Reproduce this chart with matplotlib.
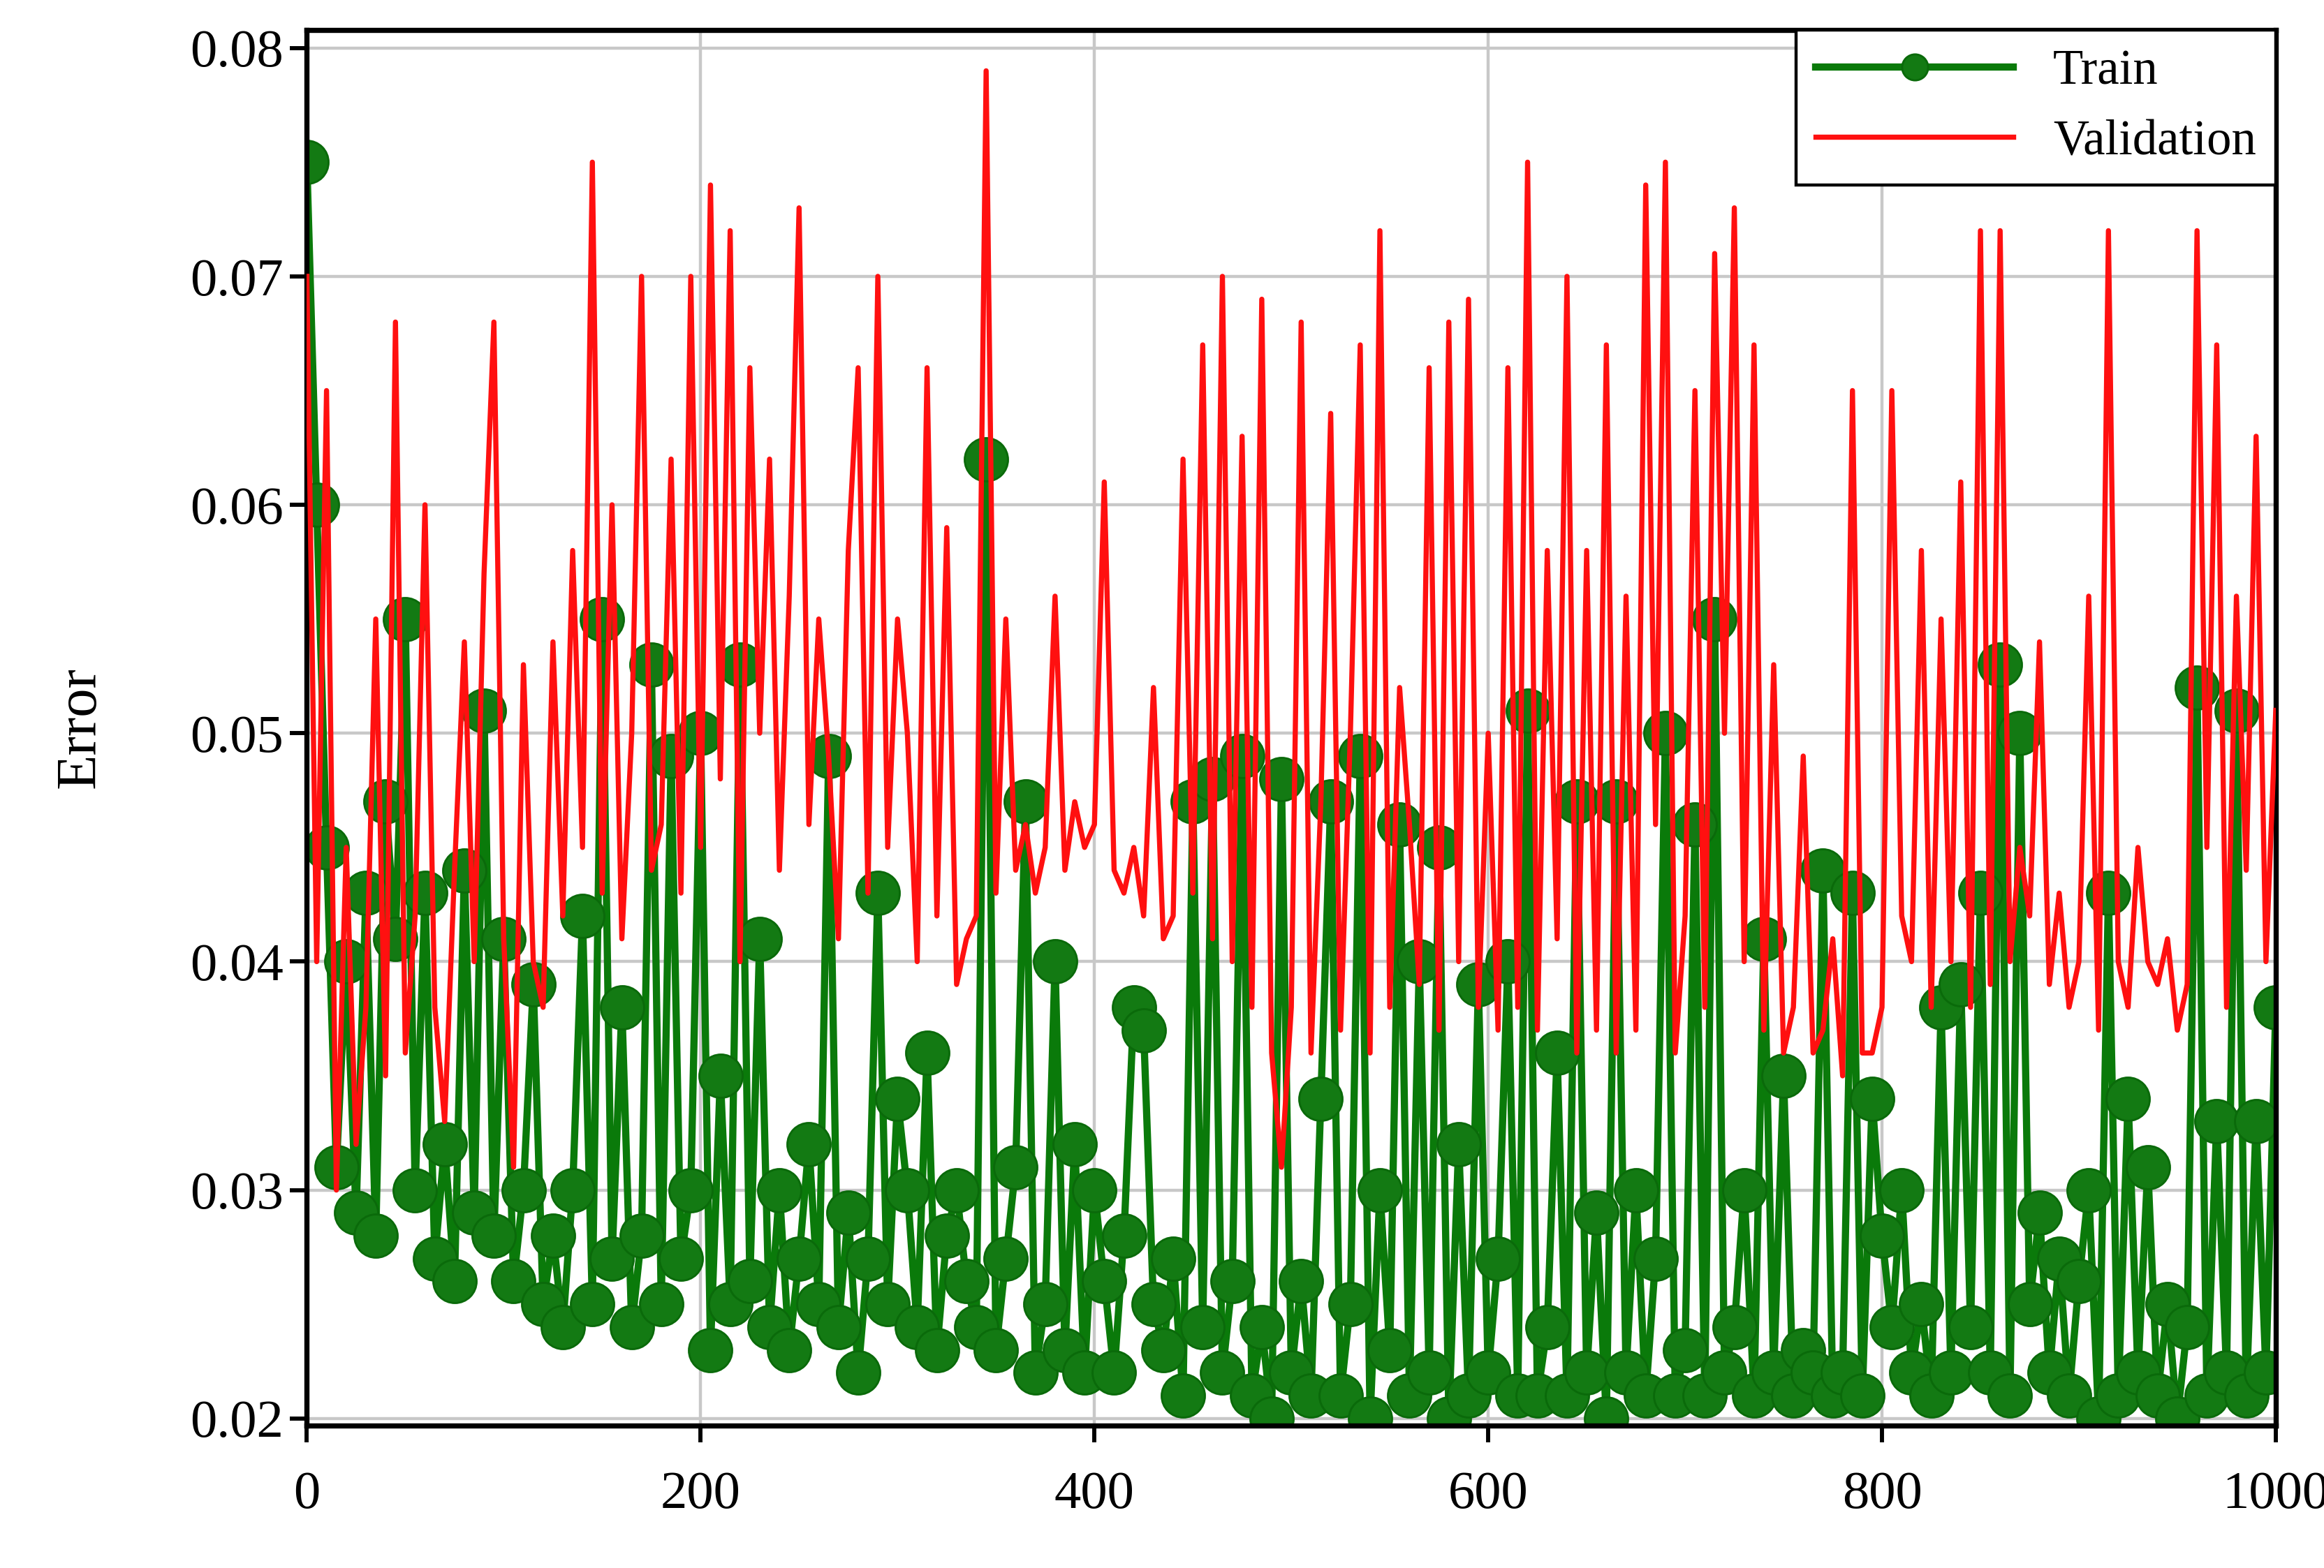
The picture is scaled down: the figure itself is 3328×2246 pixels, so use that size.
import numpy as np
import matplotlib
matplotlib.use("Agg")
import matplotlib.pyplot as plt

val = [0.070,0.040,0.065,0.030,0.045,0.032,0.038,0.055,0.035,0.068,0.036,0.042,0.060,0.038,0.033,0.044,0.054,0.040,0.057,0.068,
0.041,0.031,0.053,0.040,0.038,0.054,0.042,0.058,0.045,0.075,0.043,0.060,0.041,0.050,0.070,0.044,0.046,0.062,0.043,0.070,
0.045,0.074,0.048,0.072,0.040,0.066,0.050,0.062,0.044,0.056,0.073,0.046,0.055,0.049,0.041,0.058,0.066,0.043,0.070,0.045,
0.055,0.050,0.040,0.066,0.042,0.059,0.039,0.041,0.042,0.079,0.043,0.055,0.044,0.046,0.043,0.045,0.056,0.044,0.047,0.045,
0.046,0.061,0.044,0.043,0.045,0.042,0.052,0.041,0.042,0.062,0.043,0.067,0.041,0.070,0.040,0.063,0.038,0.069,0.036,0.031,
0.038,0.068,0.036,0.047,0.064,0.037,0.050,0.067,0.036,0.072,0.038,0.052,0.046,0.039,0.066,0.037,0.068,0.040,0.069,0.038,
0.050,0.037,0.066,0.038,0.075,0.037,0.058,0.041,0.070,0.036,0.058,0.037,0.067,0.036,0.056,0.037,0.074,0.046,0.075,0.036,
0.042,0.065,0.038,0.071,0.050,0.073,0.040,0.067,0.037,0.053,0.036,0.038,0.049,0.036,0.037,0.041,0.035,0.065,0.036,0.036,
0.038,0.065,0.042,0.040,0.058,0.038,0.055,0.040,0.061,0.038,0.072,0.039,0.072,0.040,0.045,0.042,0.054,0.039,0.043,0.038,
0.040,0.056,0.037,0.072,0.040,0.038,0.045,0.040,0.039,0.041,0.037,0.039,0.072,0.045,0.067,0.038,0.056,0.044,0.063,0.040,0.051]

train = [0.075,0.060,0.045,0.031,0.040,0.029,0.043,0.028,0.047,0.041,0.055,0.030,0.043,0.027,0.032,0.026,0.044,0.029,0.051,0.028,
0.041,0.026,0.030,0.039,0.025,0.028,0.024,0.030,0.042,0.025,0.055,0.027,0.038,0.024,0.028,0.053,0.025,0.049,0.027,0.030,
0.050,0.023,0.035,0.025,0.053,0.026,0.041,0.024,0.030,0.023,0.027,0.032,0.025,0.049,0.024,0.029,0.022,0.027,0.043,0.025,
0.034,0.030,0.024,0.036,0.023,0.028,0.030,0.026,0.024,0.062,0.023,0.027,0.031,0.047,0.022,0.025,0.040,0.023,0.032,0.022,
0.030,0.026,0.022,0.028,0.038,0.037,0.025,0.023,0.027,0.021,0.047,0.024,0.048,0.022,0.026,0.049,0.021,0.024,0.020,0.048,
0.022,0.026,0.021,0.034,0.047,0.021,0.025,0.049,0.020,0.030,0.023,0.046,0.021,0.040,0.022,0.045,0.020,0.032,0.021,0.039,
0.022,0.027,0.040,0.021,0.051,0.021,0.024,0.036,0.021,0.047,0.022,0.029,0.020,0.047,0.022,0.030,0.021,0.027,0.050,0.021,
0.023,0.046,0.021,0.055,0.022,0.024,0.030,0.021,0.041,0.022,0.035,0.021,0.023,0.022,0.044,0.021,0.022,0.043,0.021,0.034,
0.028,0.024,0.030,0.022,0.025,0.021,0.038,0.022,0.039,0.024,0.043,0.022,0.053,0.021,0.050,0.025,0.029,0.022,0.027,0.021,
0.026,0.030,0.020,0.043,0.021,0.034,0.022,0.031,0.021,0.025,0.020,0.024,0.052,0.021,0.033,0.022,0.051,0.021,0.033,0.022,0.038]

epochs = np.linspace(0, 1000, len(val))
xticks = [0, 200, 400, 600, 800, 1000]
yticks = [0.02, 0.03, 0.04, 0.05, 0.06, 0.07, 0.08]

plt.rcParams['font.family'] = ['Liberation Serif', 'DejaVu Serif']
fig = plt.figure(figsize=(15.68, 10.58), dpi=212.3)
ax = fig.add_axes([0.132, 0.091, 0.847, 0.890])
ax.plot(epochs, train, color='#0a7a0a', lw=3.5, marker='o', ms=21,
        markerfacecolor='#137a13', markeredgecolor='#0a6a0a', label='Train', zorder=2)
ax.plot(epochs, val, color='#ff1010', lw=2.5, label='Validation', zorder=3)
ax.set_xlim(0, 1000)
ax.set_ylim(0.0197, 0.0808)
ax.set_xticks(xticks)
ax.set_yticks(yticks)
ax.set_yticklabels([f"{t:.2f}" for t in yticks])
ax.tick_params(labelsize=26, width=2, length=8)
ax.tick_params(axis='x', pad=14)
ax.grid(True, color='#c8c8c8', lw=1.5)
ax.set_axisbelow(True)
for s in ax.spines.values():
    s.set_linewidth(2.5)
ax.set_ylabel('Error', fontsize=28, labelpad=40)
leg = ax.legend(loc='upper right', fontsize=24, fancybox=False, framealpha=1,
                edgecolor='black', borderaxespad=0.0, handlelength=4, markerscale=0.6)
leg.get_frame().set_linewidth(1.5)
fig.savefig('out.png', dpi=212.3)
